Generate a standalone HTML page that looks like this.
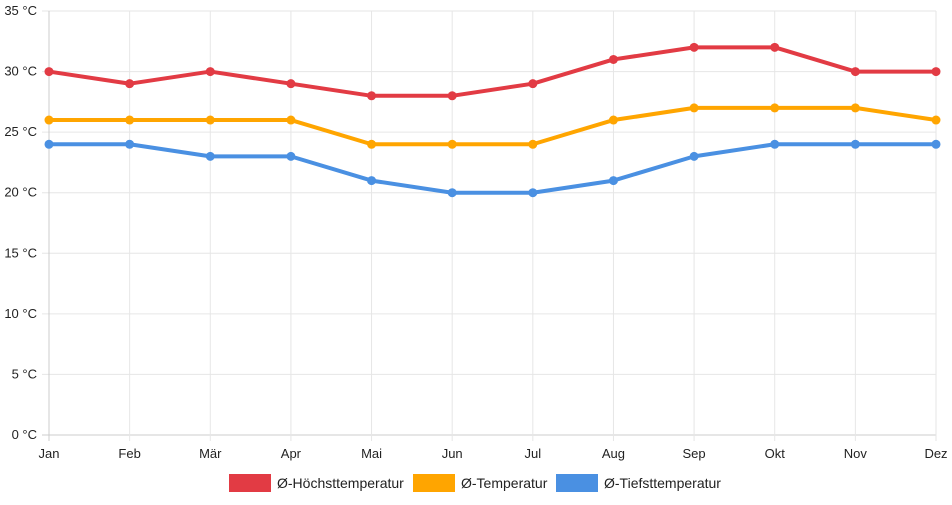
<!DOCTYPE html>
<html><head><meta charset="utf-8"><style>
body{margin:0;background:#fff;font-family:"Liberation Sans",sans-serif;}
svg text{font-family:"Liberation Sans",sans-serif;font-size:13px;fill:#222;}
</style></head><body>
<svg id="chart" width="952" height="500"></svg>
<script>
const months=["Jan","Feb","Mär","Apr","Mai","Jun","Jul","Aug","Sep","Okt","Nov","Dez"];
const hoch=[30,29,30,29,28,28,29,31,32,32,30,30];
const mittel=[26,26,26,26,24,24,24,26,27,27,27,26];
const tief=[24,24,23,23,21,20,20,21,23,24,24,24];
const yTicks=[0,5,10,15,20,25,30,35];
const seriesNames=["Ø-Höchsttemperatur","Ø-Temperatur","Ø-Tiefsttemperatur"];
const NS="http://www.w3.org/2000/svg";
const svg=document.getElementById('chart');
const x0=49,x1=936,yTop=11,yBot=435,yMax=35;
const X=i=>x0+i*(x1-x0)/(months.length-1);
const Y=v=>yBot-v*(yBot-yTop)/yMax;
function mk(t,a,p){const e=document.createElementNS(NS,t);for(const k in a)e.setAttribute(k,a[k]);(p||svg).appendChild(e);return e;}
const grid=mk('g',{});


yTicks.forEach(v=>{
  const l=mk('line',{x1:42,x2:x1,y1:Y(v),y2:Y(v),stroke:v===0?'#ccc':'#e6e6e6','stroke-width':1},grid);
  
  
  const t=mk('text',{x:37,y:Y(v)+4,'text-anchor':'end'});
  t.textContent=v+' °C';
  
  
});
months.forEach((m,i)=>{
  const l=mk('line',{x1:X(i),x2:X(i),y1:yTop,y2:yBot+6,stroke:i===0?'#ccc':'#e6e6e6','stroke-width':1},grid);
  
  
  const t=mk('text',{x:X(i),y:458,'text-anchor':'middle'});
  t.textContent=m;
  
  
});
const series=[[hoch,'#e23b44','series-hoechst'],[mittel,'#ffa500','series-temperatur'],[tief,'#4a90e2','series-tief']];
series.forEach(([d,c,n])=>{
  const g=mk('g',{});
  
  
  const p=mk('polyline',{points:d.map((v,i)=>X(i)+','+Y(v)).join(' '),fill:'none',stroke:c,'stroke-width':4,'stroke-linejoin':'round'},g);
  
  
  d.forEach((v,i)=>{
    const ci=mk('circle',{cx:X(i),cy:Y(v),r:4.5,fill:c},g);
    
    
  });
});
const leg=[[229,277,'#e23b44'],[413,461,'#ffa500'],[556,604,'#4a90e2']];
leg.forEach(([bx,tx,c],k)=>{
  const g=mk('g',{});
  
  
  mk('rect',{x:bx,y:474,width:42,height:18,fill:c},g);
  const t=mk('text',{x:tx,y:488,style:'font-size:14px'},g);
  t.textContent=seriesNames[k];
});
</script>
</body></html>
